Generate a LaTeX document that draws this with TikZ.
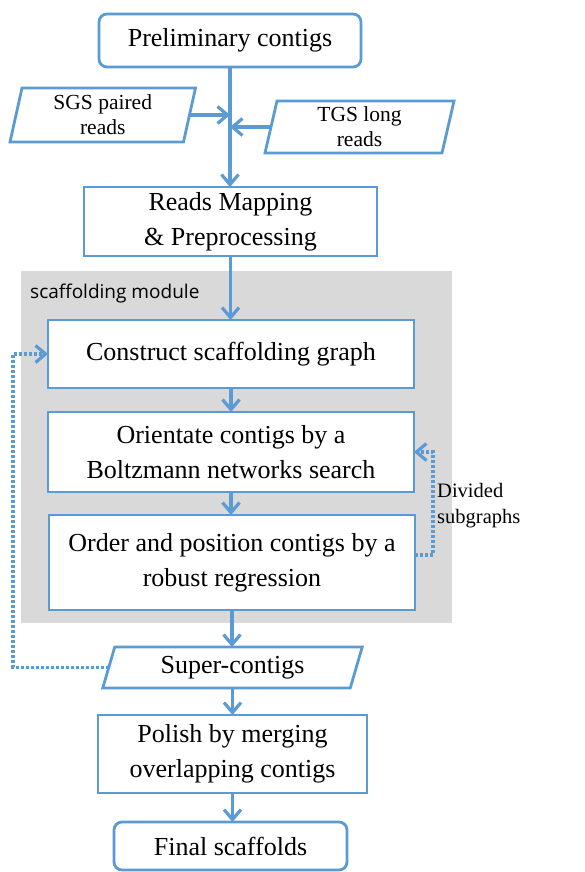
\documentclass[tikz,border=0pt]{standalone}
\usepackage{fontspec}
\setmainfont{Liberation Serif}
\newfontfamily\labelsans{Open Sans}
\usetikzlibrary{arrows.meta,calc}
\definecolor{flowblue}{HTML}{5B9BD5}
\definecolor{modgray}{HTML}{D9D9D9}
\begin{document}
\begin{tikzpicture}[x=1pt,y=-1pt,
  box/.style={draw=flowblue, line width=2.8pt, fill=white, align=center,
    inner sep=0pt, outer sep=0pt, font=\fontsize{26}{35}\selectfont},
  roundbox/.style={box, rounded corners=8pt},
  para/.style={align=center, inner sep=0pt, outer sep=0pt},
  outline/.style={draw=flowblue, line width=2.8pt, fill=white, line join=miter},
  flow/.style={draw=flowblue, line width=3.2pt, -{Straight Barb[length=10pt,width=17pt]}},
  dots/.style={flow, dash pattern=on 3pt off 2pt}
]
\useasboundingbox (0,0) rectangle (585,872);
% module background
\fill[modgray] (21,271) rectangle (452,623);
\node[anchor=base west, inner sep=0pt, font=\labelsans\fontsize{19}{22}\selectfont] (modlabel) at (30,298) {scaffolding module};

% nodes
\node[roundbox, minimum width=262pt, minimum height=53pt] (prelim) at (230,40.5) {Preliminary contigs};
\node[para, minimum width=173.5pt, minimum height=54pt] (sgs) at (102.75,115) {};
\draw[outline] ([xshift=6pt]sgs.north west) -- ([xshift=6pt]sgs.north east) -- ([xshift=-6pt]sgs.south east) -- ([xshift=-6pt]sgs.south west) -- cycle;
\node[para, font=\fontsize{21.5}{25}\selectfont] (sgstext) at (sgs) {SGS paired\\reads};
\node[para, minimum width=177pt, minimum height=52pt] (tgs) at (359.5,127) {};
\draw[outline] ([xshift=6pt]tgs.north west) -- ([xshift=6pt]tgs.north east) -- ([xshift=-6pt]tgs.south east) -- ([xshift=-6pt]tgs.south west) -- cycle;
\node[para, font=\fontsize{21.5}{25}\selectfont] (tgstext) at (tgs) {TGS long\\reads};

\node[box, minimum width=293pt, minimum height=69pt] (reads) at (230.5,221.5) {Reads Mapping\\\& Preprocessing};
\node[box, minimum width=366pt, minimum height=68pt] (construct) at (231,354) {Construct scaffolding graph};
\node[box, minimum width=366pt, minimum height=80pt] (orient) at (231,452) {Orientate contigs by a\\Boltzmann networks search};
\node[box, minimum width=366pt, minimum height=95pt] (order) at (232,562.5) {Order and position contigs by a\\robust regression};
\node[para, minimum width=247.5pt, minimum height=41pt] (super) at (232.5,667.5) {};
\draw[outline] ([xshift=6pt]super.north west) -- ([xshift=6pt]super.north east) -- ([xshift=-6pt]super.south east) -- ([xshift=-6pt]super.south west) -- cycle;
\node[para, font=\fontsize{26}{35}\selectfont] (supertext) at (super) {Super-contigs};
\node[box, minimum width=269pt, minimum height=78pt] (polish) at (232.5,754) {Polish by merging\\overlapping contigs};
\node[roundbox, minimum width=233pt, minimum height=48pt] (final) at (230.5,846) {Final scaffolds};

\node[anchor=west, align=left, inner sep=0pt, font=\fontsize{20.5}{26}\selectfont] (div) at (437,506) {Divided\\subgraphs};

% connectors
\draw[flow] (prelim.south) -- (prelim.south |- reads.north);
\draw[flow] (sgs.east) -- (sgs.east -| prelim.south);
\draw[flow] (tgs.west) -- (tgs.west -| prelim.south);
\draw[flow] (reads.south) -- (reads.south |- construct.north);
\draw[flow] (construct.south) -- (construct.south |- orient.north);
\draw[flow] (orient.south) -- (orient.south |- order.north);
\draw[flow] (order.south) -- (order.south |- super.north);
\draw[flow] (super.south) -- (super.south |- polish.north);
\draw[flow] (polish.south) -- (polish.south |- final.north);

\coordinate (lp) at (13,354);
\draw[dots] (super.west) -| (lp) -- (construct.west);
\coordinate (rp) at (433,0);
\draw[dots] ([yshift=7.5pt]order.east) -| (rp |- orient.east) -- (orient.east);
\end{tikzpicture}
\end{document}
